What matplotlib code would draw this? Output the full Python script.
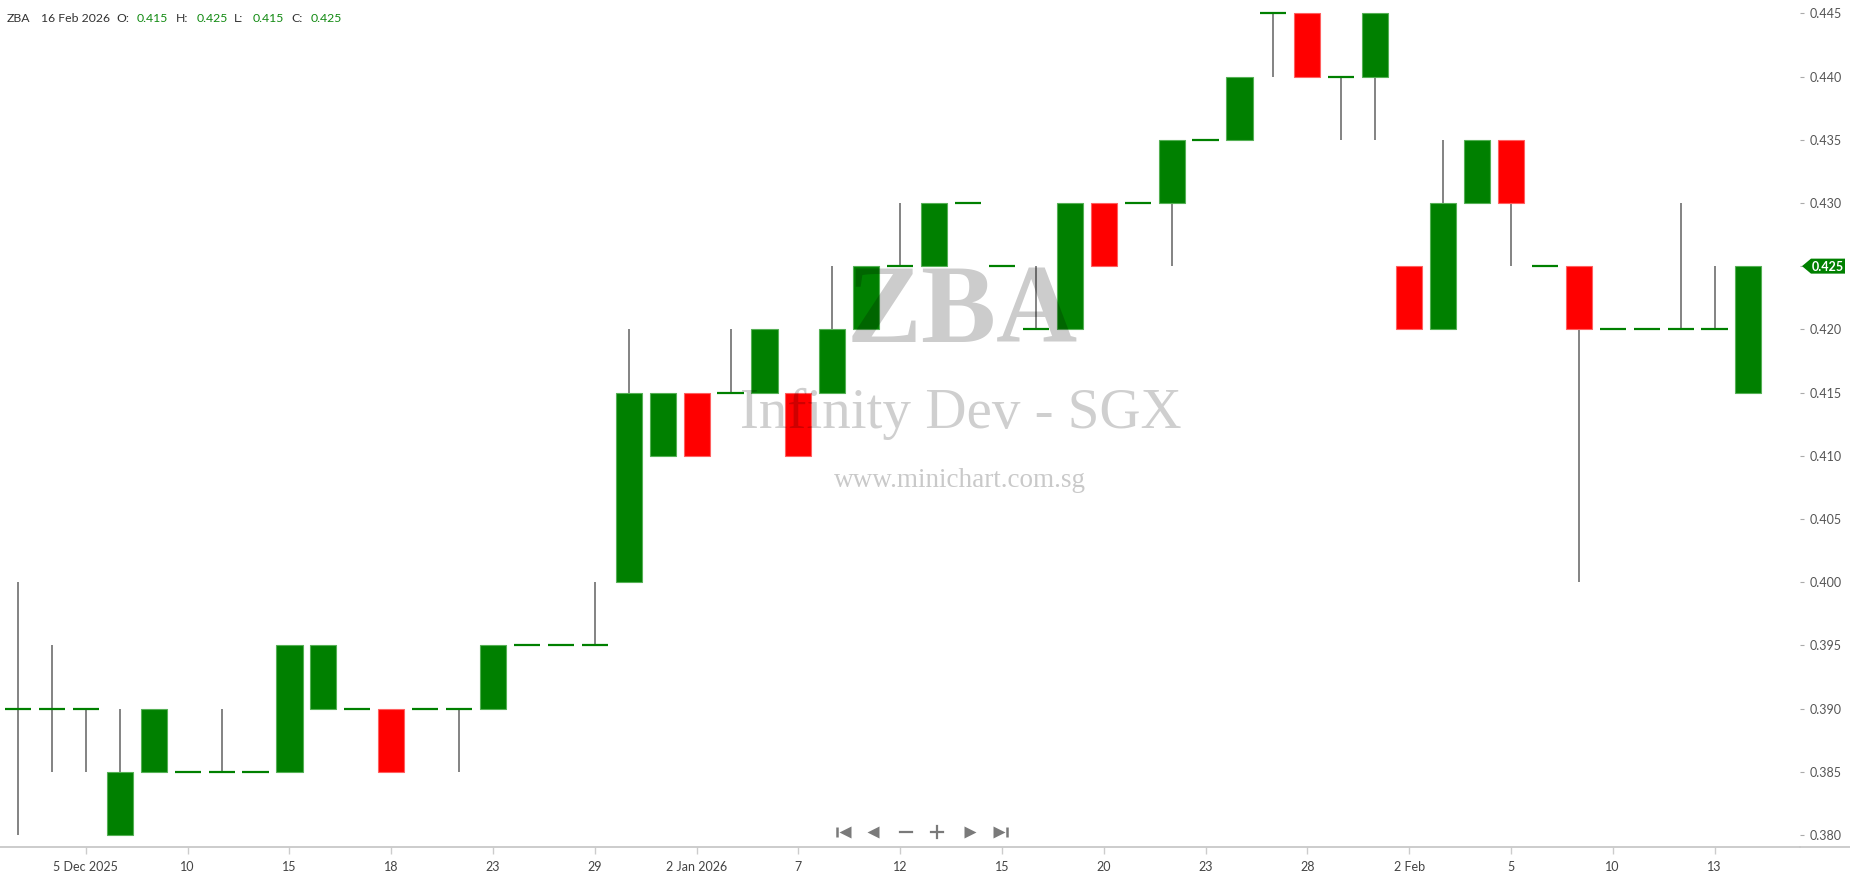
import matplotlib
matplotlib.use("Agg")
import matplotlib.pyplot as plt
from matplotlib.lines import Line2D
from matplotlib.patches import Polygon

# ---------------- data ----------------
ticker = "ZBA"
company = "Infinity Dev - SGX"
site = "www.minichart.com.sg"
last_date = "16 Feb 2026"

dates = ["3 Dec", "4 Dec", "5 Dec", "8 Dec", "9 Dec", "10 Dec", "11 Dec", "12 Dec",
         "15 Dec", "16 Dec", "17 Dec", "18 Dec", "19 Dec", "22 Dec", "23 Dec", "24 Dec",
         "26 Dec", "29 Dec", "30 Dec", "31 Dec", "2 Jan", "5 Jan", "6 Jan", "7 Jan",
         "8 Jan", "9 Jan", "12 Jan", "13 Jan", "14 Jan", "15 Jan", "16 Jan", "19 Jan",
         "20 Jan", "21 Jan", "22 Jan", "23 Jan", "26 Jan", "27 Jan", "28 Jan", "29 Jan",
         "30 Jan", "2 Feb", "3 Feb", "4 Feb", "5 Feb", "6 Feb", "9 Feb", "10 Feb",
         "11 Feb", "12 Feb", "13 Feb", "16 Feb"]

opens = [0.390, 0.390, 0.390, 0.380, 0.385, 0.385, 0.385, 0.385,
         0.385, 0.390, 0.390, 0.390, 0.390, 0.390, 0.390, 0.395,
         0.395, 0.395, 0.400, 0.410, 0.415, 0.415, 0.415, 0.415,
         0.415, 0.420, 0.425, 0.425, 0.430, 0.425, 0.420, 0.420,
         0.430, 0.430, 0.430, 0.435, 0.435, 0.445, 0.445, 0.440,
         0.440, 0.425, 0.420, 0.430, 0.435, 0.425, 0.425, 0.420,
         0.420, 0.420, 0.420, 0.415]
highs = [0.400, 0.395, 0.390, 0.390, 0.390, 0.385, 0.390, 0.385,
         0.395, 0.395, 0.390, 0.390, 0.390, 0.390, 0.395, 0.395,
         0.395, 0.400, 0.420, 0.415, 0.415, 0.420, 0.420, 0.415,
         0.425, 0.425, 0.430, 0.430, 0.430, 0.425, 0.425, 0.430,
         0.430, 0.430, 0.435, 0.435, 0.440, 0.445, 0.445, 0.440,
         0.445, 0.425, 0.435, 0.435, 0.435, 0.425, 0.425, 0.420,
         0.420, 0.430, 0.425, 0.425]
lows = [0.380, 0.385, 0.385, 0.380, 0.385, 0.385, 0.385, 0.385,
        0.385, 0.390, 0.390, 0.385, 0.390, 0.385, 0.390, 0.395,
        0.395, 0.395, 0.400, 0.410, 0.410, 0.415, 0.415, 0.410,
        0.415, 0.420, 0.425, 0.425, 0.430, 0.425, 0.420, 0.420,
        0.425, 0.430, 0.425, 0.435, 0.435, 0.440, 0.440, 0.435,
        0.435, 0.420, 0.420, 0.430, 0.425, 0.425, 0.400, 0.420,
        0.420, 0.420, 0.420, 0.415]
closes = [0.390, 0.390, 0.390, 0.385, 0.390, 0.385, 0.385, 0.385,
          0.395, 0.395, 0.390, 0.385, 0.390, 0.390, 0.395, 0.395,
          0.395, 0.395, 0.415, 0.415, 0.410, 0.415, 0.420, 0.410,
          0.420, 0.425, 0.425, 0.430, 0.430, 0.425, 0.420, 0.430,
          0.425, 0.430, 0.435, 0.435, 0.440, 0.445, 0.440, 0.440,
          0.445, 0.420, 0.430, 0.435, 0.430, 0.425, 0.420, 0.420,
          0.420, 0.420, 0.420, 0.425]

tick_idx = [2, 5, 8, 11, 14, 17, 20, 23, 26, 29, 32, 35, 38, 41, 44, 47, 50]
tick_labels = ["5 Dec 2025", "10", "15", "18", "23", "29", "2 Jan 2026", "7", "12",
               "15", "20", "23", "28", "2 Feb", "5", "10", "13"]
y_ticks = [0.380, 0.385, 0.390, 0.395, 0.400, 0.405, 0.410, 0.415, 0.420,
           0.425, 0.430, 0.435, 0.440, 0.445]

# ---------------- style ----------------
UP = "#008000"
DOWN = "#ff0000"
UP_EDGE = "#55b055"
DOWN_EDGE = "#ff6060"
WICK = "#626262"
FONT = "Lato"

W, H = 1850, 874
fig = plt.figure(figsize=(W / 100, H / 100), dpi=100)
fig.patch.set_facecolor("white")

ax_right_px = 1800
ax_bottom_px = 847
ax = fig.add_axes([0, (H - ax_bottom_px) / H, ax_right_px / W, ax_bottom_px / H])
ax.set_facecolor("white")

step = 33.93
x0 = 18.0
ax.set_xlim(-x0 / step, (ax_right_px - x0) / step)
pps = 63.2 / 0.005  # pixels per price unit
ax.set_ylim(0.380 - 12 / pps, 0.445 + 13.3 / pps)

xs = list(range(len(opens)))
bw = 0.77

# wicks
ax.vlines(xs, lows, highs, color=WICK, lw=1.1, zorder=1)

# bodies / doji
for i in xs:
    o, c = opens[i], closes[i]
    if abs(c - o) < 1e-9:
        ax.hlines(o, i - bw / 2, i + bw / 2, color=UP, lw=1.6, zorder=3)
    else:
        up = c > o
        ax.bar(i, abs(c - o), bottom=min(o, c), width=bw,
               color=UP if up else DOWN, edgecolor=UP_EDGE if up else DOWN_EDGE,
               linewidth=0.8, zorder=2)

# axes styling
for s in ["left", "top", "right"]:
    ax.spines[s].set_visible(False)
ax.spines["bottom"].set_color("#c8c8c8")
ax.spines["bottom"].set_linewidth(1.3)

ax.set_xticks(tick_idx)
ax.set_xticklabels(tick_labels, fontfamily=FONT, fontsize=9, color="#444444")
ax.tick_params(axis="x", length=5, width=1, color="#cccccc", pad=5)

ax.yaxis.tick_right()
ax.set_yticks(y_ticks)
ax.set_yticklabels([f"{v:.3f}" for v in y_ticks], fontfamily=FONT, fontsize=9,
                   color="#555555")
ax.tick_params(axis="y", length=3, width=0.8, color="#aaaaaa", pad=4)

fig.add_artist(Line2D([ax_right_px / W, 1.0], [(H - ax_bottom_px) / H] * 2,
                      color="#c8c8c8", lw=1.3, transform=fig.transFigure))

# overlay in pixel coordinates
ov = fig.add_axes([0, 0, 1, 1])
ov.set_xlim(0, W)
ov.set_ylim(H, 0)
ov.axis("off")
ov.set_zorder(ax.get_zorder() + 1)

# watermark
ov.text(962, 342, ticker, fontfamily="Liberation Serif", fontweight="bold",
        fontsize=81, color="black", alpha=0.2, ha="center", va="baseline")
ov.text(961, 428, company, fontfamily="Liberation Serif", fontsize=41,
        color="black", alpha=0.19, ha="center", va="baseline")
ov.text(960, 487, site, fontfamily="Liberation Serif", fontsize=19.5,
        color="black", alpha=0.21, ha="center", va="baseline")

# header
hdr_dark = "#333333"
hdr_green = "#128a12"
pieces = [(ticker, 7, hdr_dark), (last_date, 41, hdr_dark), ("O:", 116, hdr_dark),
          (f"{opens[-1]:.3f}", 137, hdr_green), ("H:", 176, hdr_dark),
          (f"{highs[-1]:.3f}", 197, hdr_green), ("L:", 234, hdr_dark),
          (f"{lows[-1]:.3f}", 253, hdr_green), ("C:", 291, hdr_dark),
          (f"{closes[-1]:.3f}", 311, hdr_green)]
for txt, px, col in pieces:
    ov.text(px, 18, txt, fontfamily=FONT, fontsize=8.8, color=col,
            ha="left", va="center")

# last price tag
yl = H - ax.transData.transform((0, closes[-1]))[1]
tag = Polygon([(1802, yl), (1811, yl - 7.5), (1845, yl - 7.5), (1845, yl + 7.5),
               (1811, yl + 7.5)], closed=True, facecolor=UP, edgecolor="none")
ov.add_patch(tag)
ov.text(1828, yl + 0.5, f"{closes[-1]:.3f}", fontfamily=FONT, fontsize=9,
        fontweight="bold", color="white", ha="center", va="center")

# navigation icons
ic = "#7a7a7a"
iy = 832
ov.plot([837, 837], [iy - 5, iy + 5], color=ic, lw=1.8, solid_capstyle="butt")
ov.plot(845, iy, marker="<", ms=8, color=ic, mec="none")
ov.plot(873, iy, marker="<", ms=8, color=ic, mec="none")
ov.plot([900, 912], [iy, iy], color=ic, lw=1.6)
ov.plot([931, 943], [iy, iy], color=ic, lw=1.6)
ov.plot([937, 937], [iy - 6, iy + 6], color=ic, lw=1.6)
ov.plot(970, iy, marker=">", ms=8, color=ic, mec="none")
ov.plot(999, iy, marker=">", ms=8, color=ic, mec="none")
ov.plot([1007, 1007], [iy - 5, iy + 5], color=ic, lw=1.8, solid_capstyle="butt")

fig.savefig("out.png", dpi=100, facecolor="white")
